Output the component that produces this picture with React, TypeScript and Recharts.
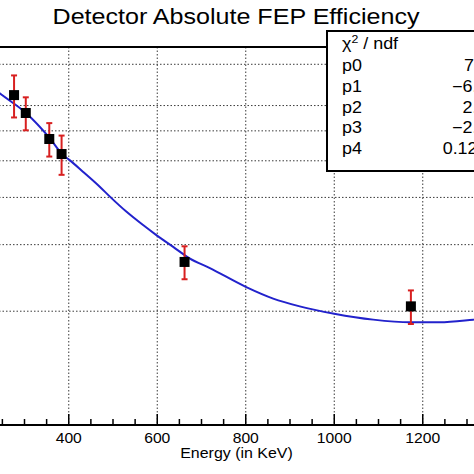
import { ComposedChart, Line, Scatter, XAxis, YAxis, CartesianGrid, ErrorBar } from "recharts"

// fit curve (efficiency in units of 1e-3)
const fitEnergy = [230, 244, 304, 357, 387, 402, 432, 470, 493, 530, 568, 598, 636, 673, 719, 800, 862, 922, 1000, 1088, 1172, 1238, 1314, 1400]
const fitEff = [7.77, 7.54, 6.68, 5.74, 5.18, 5.02, 4.68, 4.27, 4.02, 3.67, 3.38, 3.18, 2.96, 2.76, 2.6, 2.32, 2.16, 2.06, 1.97, 1.9, 1.87, 1.87, 1.9, 1.95]

// measured peaks (Ba-133, Cs-137, Co-60)
const peakEnergy = [276.4, 302.9, 356.0, 383.8, 661.7, 1173.2]
const peakEff = [7.46, 6.69, 5.71, 5.21, 2.7, 2.06]
const peakErr = [0.95, 0.67, 0.58, 0.62, 0.27, 0.21]

const energyTicks = [100, 150, 200, 250, 300, 350, 400, 450, 500, 550, 600, 650, 700, 750, 800, 850, 900, 950, 1000, 1050, 1100, 1150, 1200, 1250, 1300, 1350, 1400]
const majorTicks = [200, 400, 600, 800, 1000, 1200, 1400]
const energyLabels = [400, 600, 800, 1000, 1200]
const energyGrid = [200, 400, 600, 800, 1000, 1200]
const effGrid = [2, 3, 4, 5, 6, 7, 8, 9]

const statNames = ["p0", "p1", "p2", "p3", "p4"]
const statValues = ["7.118 ± 1.52", "−6.372 ± 1.18", "2.135 ± 0.39", "−2.846 ± 0.54", "0.1281 ± 0.027"]

const fitData = fitEnergy.map((e, i) => ({ energy: e, eff: fitEff[i] }))
const peakData = peakEnergy.map((e, i) => ({ energy: e, eff: peakEff[i], err: peakErr[i] }))

const FONT = "'Liberation Sans', Arial, Helvetica, sans-serif"
const STRETCH = 1.12

function EnergyTick(props: any) {
  const { x, y, payload } = props
  const major = majorTicks.includes(payload.value)
  return (
    <g>
      <line x1={x} x2={x} y1={y} y2={y - (major ? 11 : 6)} stroke="#000" strokeWidth={1.5} />
      {energyLabels.includes(payload.value) && (
        <text
          transform={`translate(${x},${y + 18}) scale(${STRETCH},1)`}
          textAnchor="middle"
          fontSize={14}
          fontFamily={FONT}
          fill="#000"
        >
          {payload.value}
        </text>
      )}
    </g>
  )
}

const Square = (props: any) => (
  <rect x={props.cx - 5} y={props.cy - 5} width={10} height={10} fill="#000" />
)

export default function App() {
  return (
    <div style={{ position: "absolute", left: 0, top: 0, width: 474, height: 474, overflow: "hidden", background: "#fff" }}>
      <div style={{ position: "absolute", left: -63.75, top: 47 }}>
        <ComposedChart width={575.25} height={418} margin={{ top: 0, right: 0, bottom: 0, left: 0 }}>
          <CartesianGrid
            horizontalValues={effGrid}
            verticalValues={energyGrid}
            stroke="#3a3a3a"
            strokeDasharray="1.5 2"
          />
          <XAxis
            dataKey="energy"
            type="number"
            domain={[100, 1400]}
            allowDataOverflow
            ticks={energyTicks}
            interval={0}
            tickSize={0}
            tickMargin={0}
            tickLine={false}
            tick={<EnergyTick />}
            axisLine={{ stroke: "#000", strokeWidth: 2 }}
            height={40}
          />
          <YAxis hide type="number" dataKey="eff" scale="log" domain={[1, 10]} allowDataOverflow />
          <Line
            data={fitData}
            dataKey="eff"
            type="monotone"
            stroke="#2222cc"
            strokeWidth={2}
            dot={false}
            isAnimationActive={false}
          />
          <Scatter data={peakData} dataKey="eff" shape={Square} isAnimationActive={false}>
            <ErrorBar dataKey="err" direction="y" width={3} stroke="#d82020" strokeWidth={2} />
          </Scatter>
        </ComposedChart>
      </div>
      <svg width={474} height={474} style={{ position: "absolute", left: 0, top: 0, pointerEvents: "none" }}>
        <line x1={0} x2={330} y1={47} y2={47} stroke="#000" strokeWidth={2} />
        <text
          transform={`translate(236,23.5) scale(1.14,1)`}
          textAnchor="middle"
          fontSize={22}
          fontFamily={FONT}
          fill="#000"
        >
          Detector Absolute FEP Efficiency
        </text>
        <text
          transform={`translate(236.5,458) scale(1.1,1)`}
          textAnchor="middle"
          fontSize={14.5}
          fontFamily={FONT}
          fill="#000"
        >
          Energy (in KeV)
        </text>
        <rect x={327} y={31} width={200} height={140} fill="#fff" stroke="#000" strokeWidth={2} />
        <text transform={`translate(342,49) scale(${STRETCH},1)`} fontSize={16} fontFamily={FONT} fill="#000">
          <tspan>χ</tspan>
          <tspan dy={-6} fontSize={11}>2</tspan>
          <tspan dy={6}> / ndf</tspan>
        </text>
        {statNames.map((name, i) => (
          <g key={name}>
            <text
              transform={`translate(342,${71 + i * 20.8}) scale(${STRETCH},1)`}
              fontSize={16}
              fontFamily={FONT}
              fill="#000"
            >
              {name}
            </text>
            <text
              transform={`translate(562,${71 + i * 20.8}) scale(${STRETCH},1)`}
              textAnchor="end"
              fontSize={16}
              fontFamily={FONT}
              fill="#000"
            >
              {statValues[i]}
            </text>
          </g>
        ))}
      </svg>
    </div>
  )
}
